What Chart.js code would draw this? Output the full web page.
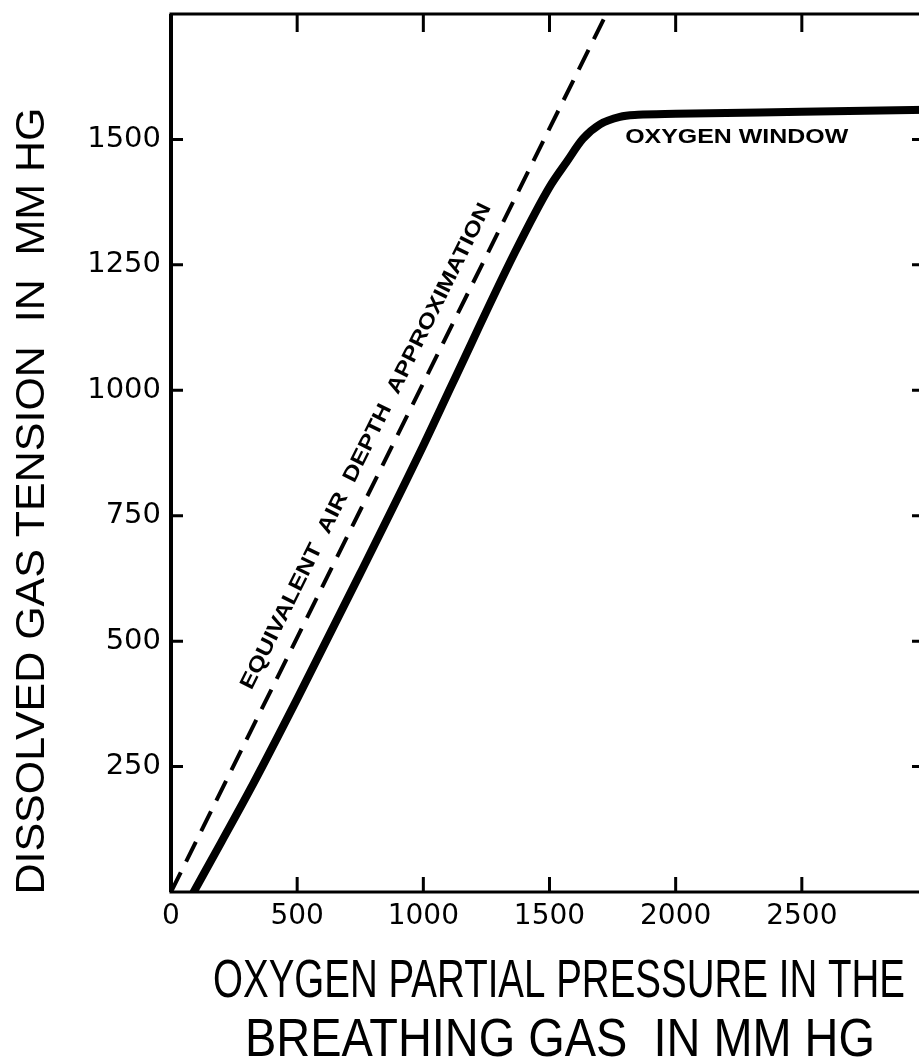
<!DOCTYPE html>
<html>
<head>
<meta charset="utf-8">
<script src="https://cdn.jsdelivr.net/npm/chart.js@4.4.0/dist/chart.umd.min.js"></script>
<style>
  html, body { margin: 0; padding: 0; background: #fff; overflow: hidden; }
  #wrap { width: 940px; height: 1059px; }
</style>
</head>
<body>
<div id="wrap"><canvas id="window" width="940" height="1059"></canvas></div>
<script>
// values, all in mm Hg
const solidPressure = [90, 200, 325, 500, 750, 1000, 1117, 1363, 1500, 1569, 1632, 1700, 1779, 1850, 2000, 2500, 3000];
const solidTension  = [0, 100, 215, 385, 635, 890, 1015, 1275, 1405, 1456, 1501, 1530, 1545, 1549, 1551, 1555, 1559];
const airPressure = [0, 1725];
const airTension  = [0, 1750];

const xTicks = [0, 500, 1000, 1500, 2000, 2500, 3000];
const yTicks = [250, 500, 750, 1000, 1250, 1500];

const xTitle = ["OXYGEN PARTIAL PRESSURE IN THE", "BREATHING GAS  IN MM HG"];
const yTitle = "DISSOLVED GAS TENSION  IN  MM HG";
const windowLabel = "OXYGEN WINDOW";
const airLabel = "EQUIVALENT  AIR  DEPTH  APPROXIMATION";

const toPoints = (xs, ys) => xs.map((v, i) => ({ x: v, y: ys[i] }));

// draws text squeezed/stretched to a given width
function fitText(ctx, text, px, py, width, angle) {
  const w = ctx.measureText(text).width;
  ctx.save();
  ctx.translate(px, py);
  ctx.rotate(angle || 0);
  ctx.scale(width / w, 1);
  ctx.fillText(text, 0, 0);
  ctx.restore();
}

const frame = {
  id: "frame",
  afterDraw(chart) {
    const { ctx, chartArea: a } = chart;
    const xs = chart.scales.x, ys = chart.scales.y;
    ctx.save();
    ctx.strokeStyle = "#000";
    ctx.fillStyle = "#000";
    ctx.lineWidth = 3;
    ctx.strokeRect(a.left, a.top, a.right - a.left, a.bottom - a.top);
    ctx.lineWidth = 4;
    ctx.beginPath();
    ctx.moveTo(a.left, a.top); ctx.lineTo(a.left, a.bottom);
    ctx.stroke();

    // ticks pointing inwards on all four sides
    ctx.lineWidth = 3;
    ctx.beginPath();
    xTicks.forEach(v => {
      if (v <= 0 || v >= 3000) return;
      const px = xs.getPixelForValue(v);
      ctx.moveTo(px, a.bottom); ctx.lineTo(px, a.bottom - 15);
      ctx.moveTo(px, a.top); ctx.lineTo(px, a.top + 18);
    });
    yTicks.forEach(v => {
      const py = ys.getPixelForValue(v);
      ctx.moveTo(a.left, py); ctx.lineTo(a.left + 12, py);
      ctx.moveTo(a.right, py); ctx.lineTo(a.right - 16, py);
    });
    ctx.stroke();

    // curve labels
    ctx.textAlign = "left";
    ctx.textBaseline = "alphabetic";
    ctx.font = "bold 21px 'Liberation Sans'";
    fitText(ctx, windowLabel, xs.getPixelForValue(1800), ys.getPixelForValue(1492), 223, 0);

    const x0 = xs.getPixelForValue(airPressure[0]), y0 = ys.getPixelForValue(airTension[0]);
    const x1 = xs.getPixelForValue(airPressure[1]), y1 = ys.getPixelForValue(airTension[1]);
    const ang = Math.atan2(y1 - y0, x1 - x0);
    const len = Math.hypot(x1 - x0, y1 - y0);
    const dx = (x1 - x0) / len, dy = (y1 - y0) / len;
    const t = 868 / airTension[1];
    const cx = x0 + (x1 - x0) * t + dy * 23;
    const cy = y0 + (y1 - y0) * t - dx * 23;
    ctx.textAlign = "center";
    ctx.textBaseline = "middle";
    ctx.font = "bold 21px 'Liberation Sans'";
    fitText(ctx, airLabel, cx, cy, 540, ang);

    // axis titles
    ctx.textBaseline = "alphabetic";
    ctx.font = "54px 'Liberation Sans'";
    fitText(ctx, xTitle[0], 559, 997, 692, 0);
    fitText(ctx, xTitle[1], 560, 1056, 630, 0);
    ctx.font = "41px 'Liberation Sans'";
    fitText(ctx, yTitle, 44, 501, 787, -Math.PI / 2);
    ctx.restore();
  }
};

new Chart(document.getElementById("window"), {
  type: "line",
  data: {
    datasets: [
      {
        label: "Dissolved gas tension",
        data: toPoints(solidPressure, solidTension),
        borderColor: "#000",
        borderWidth: 8,
        pointRadius: 0,
        cubicInterpolationMode: "monotone",
        borderCapStyle: "round",
      },
      {
        label: "Equivalent air depth approximation",
        data: toPoints(airPressure, airTension),
        borderColor: "#000",
        borderWidth: 4,
        borderDash: [22, 12],
        pointRadius: 0,
      },
    ],
  },
  options: {
    responsive: false,
    animation: false,
    layout: { padding: { top: 14, right: 12, left: 0, bottom: 0 } },
    plugins: { legend: { display: false }, tooltip: { enabled: false } },
    scales: {
      x: {
        type: "linear",
        min: 0,
        max: 3000,
        afterBuildTicks: (s) => { s.ticks = xTicks.map(v => ({ value: v })); },
        afterFit: (s) => { s.height = 167; s.paddingLeft = 0; s.paddingRight = 0; },
        grid: { display: false, drawTicks: false },
        border: { display: false },
        ticks: {
          color: "#000",
          padding: 8,
          maxRotation: 0,
          font: { family: "DejaVu Sans", size: 28 },
          callback: (v) => (v >= 3000 ? "" : String(v)),
        },
      },
      y: {
        min: 0,
        max: 1750,
        afterBuildTicks: (s) => { s.ticks = yTicks.map(v => ({ value: v })); },
        afterFit: (s) => { s.width = 171; s.paddingTop = 0; s.paddingBottom = 0; },
        grid: { display: false, drawTicks: false },
        border: { display: false },
        ticks: {
          color: "#000",
          padding: 10,
          font: { family: "DejaVu Sans", size: 29 },
          callback: (v) => String(v),
        },
      },
    },
  },
  plugins: [frame],
});
</script>
</body>
</html>
